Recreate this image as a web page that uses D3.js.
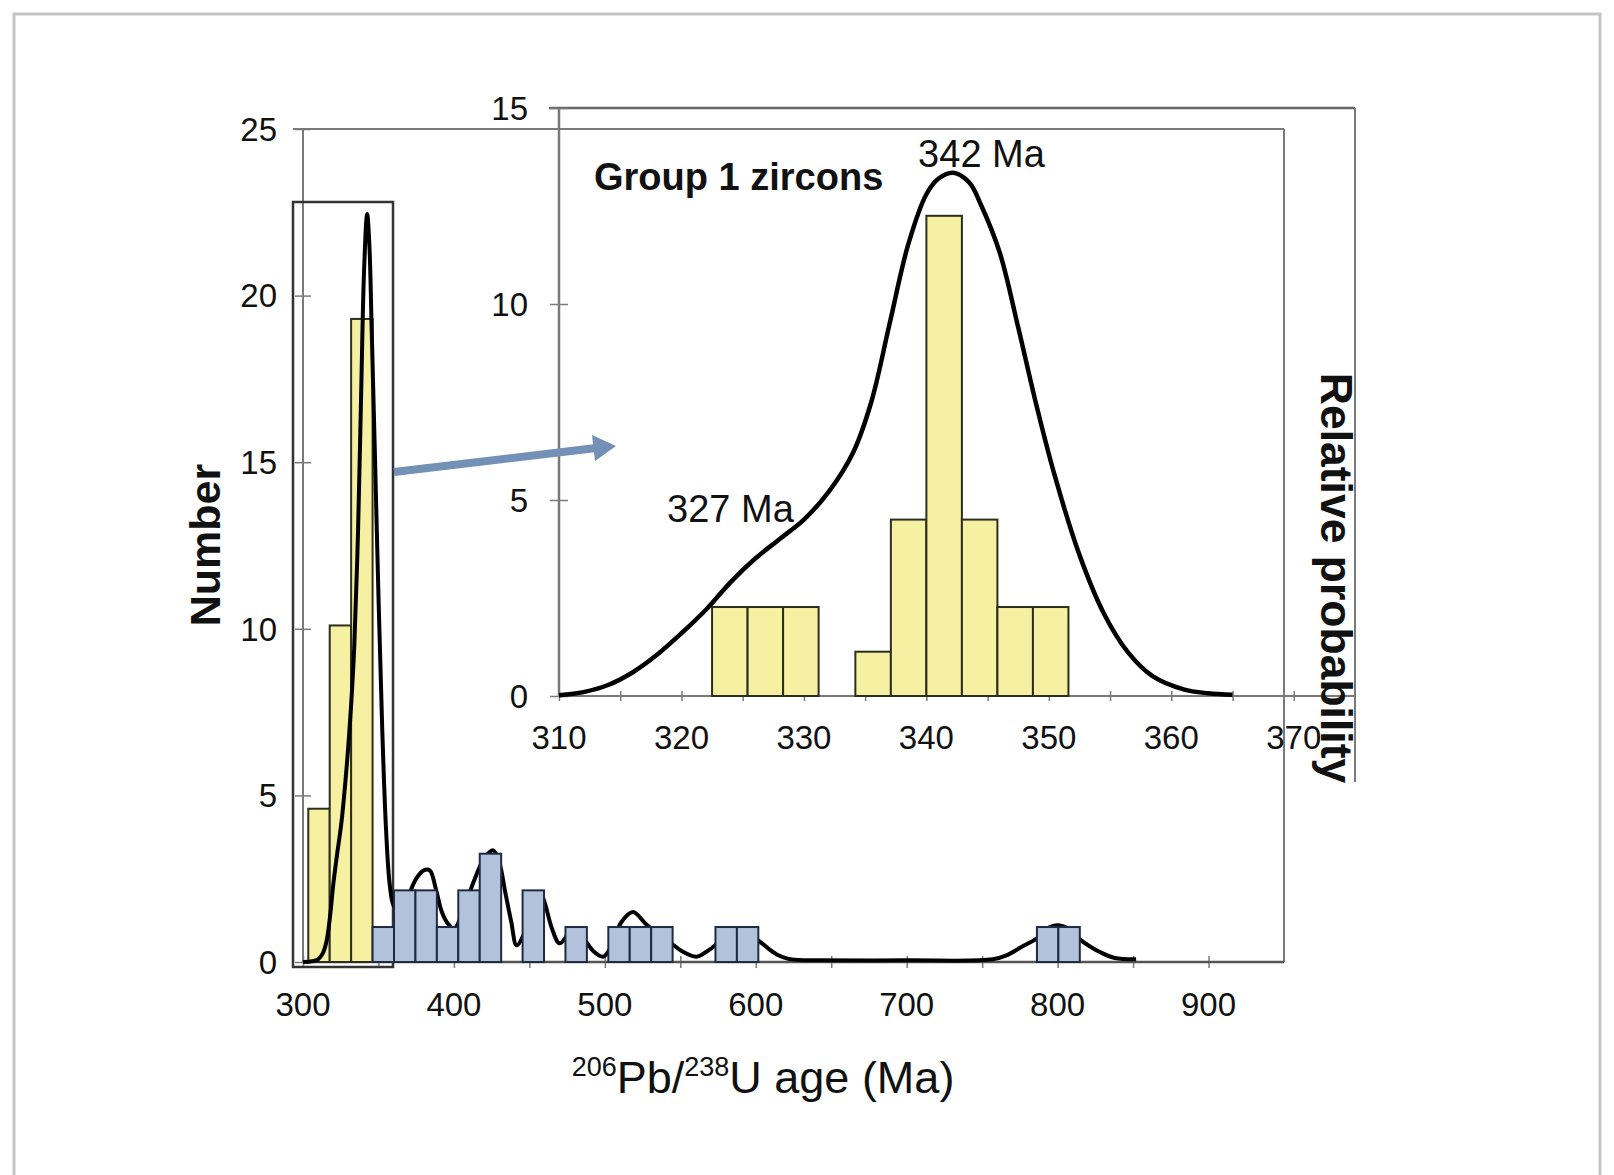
<!DOCTYPE html>
<html>
<head>
<meta charset="utf-8">
<script src="https://cdn.jsdelivr.net/npm/d3@7"></script>
<style>
  body { margin: 0; background: #fff; }
  text { font-family: Arial, "Liberation Sans", sans-serif; fill: #111; }
</style>
</head>
<body>
<svg id="chart"></svg>
<script>
const WIDTH = 1614;
const HEIGHT = 1175;

// main histogram: lower bin edges (Ma) and heights
const BIN_WIDTH = 14.2;
const group1Bins = [303.5, 317.7, 331.9];
const group1Counts = [4.6, 10.1, 19.3];
const otherBins = [346.1, 360.3, 374.5, 388.7, 402.9, 417.1, 445.5, 473.9, 502.3, 516.5, 530.7, 573.3, 587.5, 786.3, 800.5];
const otherCounts = [1.05, 2.15, 2.15, 1.05, 2.15, 3.25, 2.15, 1.05, 1.05, 1.05, 1.05, 1.05, 1.05, 1.05, 1.05];

// main relative probability curve
const mainAges = [300, 306, 310, 313, 315.5, 318, 320, 322.5, 325.5, 329, 332, 334, 336.5, 338.5, 340.5, 342.5, 344, 345.5, 347.5, 350,
  352.5, 355, 357.5, 360, 364, 369, 375, 380, 384, 388, 392, 396, 400, 406, 413, 420, 426, 430, 434, 438,
  441.5, 446, 452, 457, 460, 465, 470, 477, 482, 487, 493, 499, 504, 511, 518.7, 527, 536, 544, 552, 560.7,
  567, 573, 580, 587, 596, 603, 609, 615, 621, 628, 640, 700, 757, 766, 776, 786, 793, 800, 807, 814,
  822, 828, 838, 852];
const mainProb = [0, 0.02, 0.08, 0.25, 0.6, 1.4, 2.3, 3.2, 4.2, 5.9, 7.8, 9.5, 13, 17, 20.8, 22.45, 21.5, 19, 15.5, 11,
  7, 4, 2.3, 1.7, 1.5, 1.9, 2.5, 2.75, 2.75, 2.2, 1.5, 1.15, 1.0, 1.5, 2.4, 3.1, 3.35, 3.0, 2.1, 1.2,
  0.5, 0.8, 1.8, 2.1, 1.8, 1.0, 0.56, 0.9, 1.0, 0.65, 0.3, 0.16, 0.45, 1.2, 1.5, 1.15, 0.8, 0.56, 0.3, 0.16,
  0.3, 0.5, 0.9, 0.95, 0.8, 0.6, 0.38, 0.2, 0.1, 0.06, 0.05, 0.05, 0.08, 0.2, 0.45, 0.7, 1.0, 1.1, 1.0, 0.7,
  0.45, 0.3, 0.12, 0.08];

// inset (Group 1 zircons)
const INSET_BIN_WIDTH = 2.9;
const insetBins = [322.5, 325.4, 328.3, 334.2, 337.1, 340.0, 342.9, 345.8, 348.7];
const insetCounts = [2.27, 2.27, 2.27, 1.13, 4.5, 12.25, 4.5, 2.27, 2.27];
const insetAges = [310, 312, 314, 316, 318, 320, 322, 324, 326, 328, 330, 332, 334, 335.5, 337, 338.5,
  340, 341, 342.2, 343.5, 344.5, 346, 347.5, 349, 350.5, 352.5, 354.5, 356.5, 358.5, 361, 363, 365];
const insetProb = [0.02, 0.1, 0.28, 0.6, 1.05, 1.6, 2.2, 2.9, 3.5, 4.0, 4.5, 5.2, 6.2, 7.5, 9.5, 11.5,
  12.8, 13.2, 13.35, 13.1, 12.5, 11.3, 9.4, 7.4, 5.6, 3.6, 2.1, 1.1, 0.5, 0.17, 0.07, 0.03];

// ticks
const mainXTicks = [300, 400, 500, 600, 700, 800, 900];
const mainXMinor = [300, 350, 400, 450, 500, 550, 600, 650, 700, 750, 800, 850, 900];
const mainYTicks = [0, 5, 10, 15, 20, 25];
const insetXTicks = [310, 320, 330, 340, 350, 360, 370];
const insetXMinor = [315, 325, 335, 345, 355, 365];
const insetYTicks = [0, 5, 10, 15];
const peakLabels = [
  { at: 344.5, y: 167, text: "342 Ma" },
  { at: 324, y: 522, text: "327 Ma" }
];

const svg = d3.select("#chart").attr("width", WIDTH).attr("height", HEIGHT);

const xMain = d3.scaleLinear().domain([300, 950]).range([303, 1284]);
const yMain = d3.scaleLinear().domain([0, 25]).range([962, 129]);
const xIn = d3.scaleLinear().domain([310, 375]).range([559, 1355]);
const yIn = d3.scaleLinear().domain([0, 15]).range([696, 108]);

const GRAY = "#7a7a7a";

// outer border of the figure
svg.append("rect")
  .attr("x", 14).attr("y", 14).attr("width", 1586).attr("height", 1200)
  .attr("fill", "none").attr("stroke", "#c4c4c4").attr("stroke-width", 3);

// ---- main plot frame and axes
const frame = svg.append("g").attr("stroke", GRAY).attr("stroke-width", 2).attr("fill", "none");
frame.append("line").attr("x1", xMain(300) - 10).attr("x2", xMain(950)).attr("y1", yMain(25)).attr("y2", yMain(25));
frame.append("line").attr("x1", xMain(950)).attr("x2", xMain(950)).attr("y1", yMain(25)).attr("y2", yMain(0));

const xAxisMain = svg.append("g")
  .attr("transform", `translate(0, ${yMain(0) - 6})`)
  .call(d3.axisBottom(xMain).tickValues(mainXMinor).tickSize(12).tickFormat(""));
xAxisMain.select(".domain").remove();
xAxisMain.selectAll("line").attr("stroke", GRAY).attr("stroke-width", 1.5);
svg.append("line").attr("x1", xMain(300)).attr("x2", xMain(950)).attr("y1", yMain(0)).attr("y2", yMain(0))
  .attr("stroke", "#555").attr("stroke-width", 2.5);

svg.append("g").selectAll("text").data(mainXTicks).join("text")
  .attr("x", (d) => xMain(d)).attr("y", 1016)
  .attr("text-anchor", "middle").attr("font-size", "33px").text((d) => d);

const yAxisMain = svg.append("g")
  .attr("transform", `translate(${xMain(300) + 8}, 0)`)
  .call(d3.axisLeft(yMain).tickValues(mainYTicks).tickSize(16).tickFormat(""));
yAxisMain.select(".domain").remove();
yAxisMain.selectAll("line").attr("stroke", GRAY).attr("stroke-width", 1.5);
svg.append("line").attr("x1", xMain(300)).attr("x2", xMain(300)).attr("y1", yMain(25)).attr("y2", yMain(0))
  .attr("stroke", GRAY).attr("stroke-width", 2);

svg.append("g").selectAll("text").data(mainYTicks).join("text")
  .attr("x", 277).attr("y", (d) => yMain(d)).attr("dy", "0.36em")
  .attr("text-anchor", "end").attr("font-size", "33px").text((d) => d);

// box around the Group 1 peak
svg.append("rect")
  .attr("x", 293).attr("y", 202).attr("width", 100).attr("height", 765)
  .attr("fill", "none").attr("stroke", "#333").attr("stroke-width", 2.5);

// ---- main histogram and curve
svg.append("g").selectAll("rect")
  .data(group1Bins.map((b, i) => ({ b, c: group1Counts[i] })))
  .join("rect")
  .attr("x", (d) => xMain(d.b))
  .attr("y", (d) => yMain(d.c))
  .attr("width", (d) => xMain(d.b + BIN_WIDTH) - xMain(d.b))
  .attr("height", (d) => yMain(0) - yMain(d.c))
  .attr("fill", "#f5f0a2").attr("stroke", "#2e2e1e").attr("stroke-width", 2);

const mainLine = d3.line()
  .x((d) => xMain(d[0])).y((d) => yMain(d[1]))
  .curve(d3.curveCatmullRom.alpha(0.5));
svg.append("path")
  .datum(mainAges.map((a, i) => [a, mainProb[i]]))
  .attr("d", mainLine)
  .attr("fill", "none").attr("stroke", "#000").attr("stroke-width", 4).attr("stroke-linejoin", "round");

svg.append("g").selectAll("rect")
  .data(otherBins.map((b, i) => ({ b, c: otherCounts[i] })))
  .join("rect")
  .attr("x", (d) => xMain(d.b))
  .attr("y", (d) => yMain(d.c))
  .attr("width", (d) => xMain(d.b + BIN_WIDTH) - xMain(d.b))
  .attr("height", (d) => yMain(0) - yMain(d.c))
  .attr("fill", "#b3c2db").attr("stroke", "#1f2a44").attr("stroke-width", 2);

// ---- inset
const inset = svg.append("g");
inset.append("line").attr("x1", xIn(310) - 10).attr("x2", xIn(375)).attr("y1", yIn(15)).attr("y2", yIn(15))
  .attr("stroke", "#666").attr("stroke-width", 2.5);
inset.append("line").attr("x1", xIn(375)).attr("x2", xIn(375)).attr("y1", yIn(15)).attr("y2", 782)
  .attr("stroke", GRAY).attr("stroke-width", 2);

const xAxisIn = inset.append("g")
  .attr("transform", `translate(0, ${yIn(0) - 5})`)
  .call(d3.axisBottom(xIn).tickValues(insetXTicks.concat(insetXMinor)).tickSize(10).tickFormat(""));
xAxisIn.select(".domain").remove();
xAxisIn.selectAll("line").attr("stroke", GRAY).attr("stroke-width", 1.5);
inset.append("line").attr("x1", xIn(310)).attr("x2", xIn(375)).attr("y1", yIn(0)).attr("y2", yIn(0))
  .attr("stroke", GRAY).attr("stroke-width", 2);

inset.append("g").selectAll("text").data(insetXTicks).join("text")
  .attr("x", (d) => xIn(d)).attr("y", 749)
  .attr("text-anchor", "middle").attr("font-size", "33px").text((d) => d);

const yAxisIn = inset.append("g")
  .attr("transform", `translate(${xIn(310) + 9}, 0)`)
  .call(d3.axisLeft(yIn).tickValues(insetYTicks).tickSize(18).tickFormat(""));
yAxisIn.select(".domain").remove();
yAxisIn.selectAll("line").attr("stroke", GRAY).attr("stroke-width", 1.5);
inset.append("line").attr("x1", xIn(310)).attr("x2", xIn(310)).attr("y1", yIn(15)).attr("y2", yIn(0))
  .attr("stroke", GRAY).attr("stroke-width", 2.5);

inset.append("g").selectAll("text").data(insetYTicks).join("text")
  .attr("x", 528).attr("y", (d) => yIn(d)).attr("dy", "0.36em")
  .attr("text-anchor", "end").attr("font-size", "33px").text((d) => d);

inset.append("g").selectAll("rect")
  .data(insetBins.map((b, i) => ({ b, c: insetCounts[i] })))
  .join("rect")
  .attr("x", (d) => xIn(d.b))
  .attr("y", (d) => yIn(d.c))
  .attr("width", (d) => xIn(d.b + INSET_BIN_WIDTH) - xIn(d.b))
  .attr("height", (d) => yIn(0) - yIn(d.c))
  .attr("fill", "#f5f0a2").attr("stroke", "#2e2e1e").attr("stroke-width", 2);

const insetLine = d3.line()
  .x((d) => xIn(d[0])).y((d) => yIn(d[1]))
  .curve(d3.curveCatmullRom.alpha(0.5));
inset.append("path")
  .datum(insetAges.map((a, i) => [a, insetProb[i]]))
  .attr("d", insetLine)
  .attr("fill", "none").attr("stroke", "#000").attr("stroke-width", 4.5).attr("stroke-linejoin", "round");

// labels in the inset
inset.append("text")
  .attr("x", 594).attr("y", 190)
  .attr("font-size", "38px").attr("font-weight", "bold").text("Group 1 zircons");
inset.append("g").selectAll("text").data(peakLabels).join("text")
  .attr("x", (d) => xIn(d.at)).attr("y", (d) => d.y)
  .attr("text-anchor", "middle").attr("font-size", "38px").text((d) => d.text);

// arrow from the boxed peak to the inset
svg.append("line")
  .attr("x1", 394).attr("y1", 472).attr("x2", 596).attr("y2", 448)
  .attr("stroke", "#7390b6").attr("stroke-width", 8);
svg.append("path")
  .attr("d", "M592,435 L616,446 L595,461 Z")
  .attr("fill", "#7390b6");

// axis titles
svg.append("text")
  .attr("transform", "translate(205, 545) rotate(-90)")
  .attr("text-anchor", "middle").attr("dominant-baseline", "central")
  .attr("font-size", "43px").attr("font-weight", "bold").text("Number");

svg.append("text")
  .attr("transform", "translate(1336, 578) rotate(90)")
  .attr("text-anchor", "middle").attr("dominant-baseline", "central")
  .attr("font-size", "44.5px").attr("font-weight", "bold").text("Relative probability");

const xTitle = svg.append("text")
  .attr("x", 763).attr("y", 1093)
  .attr("text-anchor", "middle").attr("font-size", "45px");
xTitle.append("tspan").attr("font-size", "27px").attr("dy", -17).text("206");
xTitle.append("tspan").attr("dy", 17).text("Pb/");
xTitle.append("tspan").attr("font-size", "27px").attr("dy", -17).text("238");
xTitle.append("tspan").attr("dy", 17).text("U age (Ma)");
</script>
</body>
</html>
